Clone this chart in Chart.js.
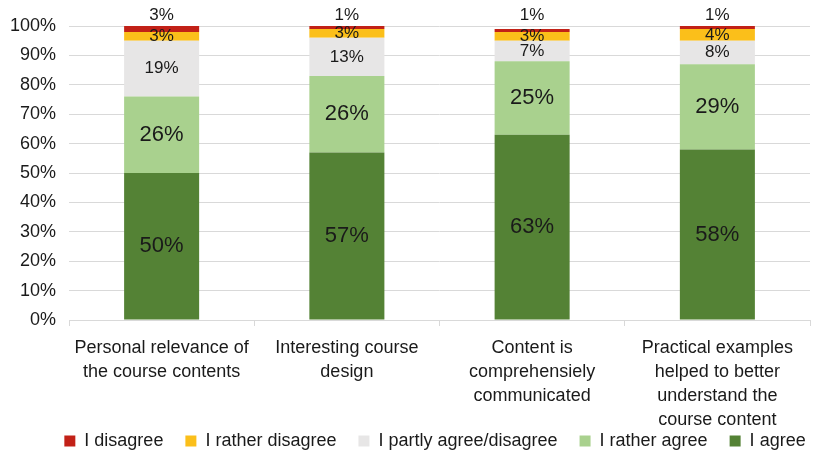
<!DOCTYPE html>
<html lang="en">
<head>
    <meta charset="UTF-8">
    <title>Course evaluation</title>
    <script src="https://cdn.jsdelivr.net/npm/chart.js"></script>
    <style>
        body {
            margin: 0;
            padding: 0;
            background: #fff;
        }
        .wrap {
            width: 823px;
            height: 455px;
        }
    </style>
</head>
<body>
    <div class="wrap">
        <canvas id="surveyChart" width="823" height="455"></canvas>
    </div>

    <script>
        // survey items (multi-line axis labels)
        const categories = [
            ["Personal relevance of", "the course contents"],
            ["Interesting course", "design"],
            ["Content is", "comprehensiely", "communicated"],
            ["Practical examples", "helped to better", "understand the", "course content"]
        ];

        // answer shares in percent, one array per answer
        const agree = [50, 57, 63, 58];
        const ratherAgree = [26, 26, 25, 29];
        const partlyAgree = [19, 13, 7, 8];
        const ratherDisagree = [3, 3, 3, 4];
        const disagree = [3, 1, 1, 1];

        const yTicks = [0, 10, 20, 30, 40, 50, 60, 70, 80, 90, 100];

        const FONT = "'Liberation Sans', Arial, sans-serif";

        // percent labels on the segments; the top answer sits above the bar
        const segmentLabels = {
            id: 'segmentLabels',
            afterDatasetsDraw(chart) {
                const ctx = chart.ctx;
                const yScale = chart.scales.y;
                ctx.save();
                ctx.fillStyle = '#1a1a1a';
                ctx.textAlign = 'center';
                ctx.textBaseline = 'middle';
                chart.data.datasets.forEach((ds, i) => {
                    const meta = chart.getDatasetMeta(i);
                    meta.data.forEach((bar, j) => {
                        const v = ds.data[j];
                        ctx.font = (v >= 20 ? '22px ' : '17px ') + FONT;
                        let y = (bar.y + bar.base) / 2;
                        if (ds.label === 'I disagree') {
                            y = yScale.getPixelForValue(100) - 11;
                        }
                        ctx.fillText(v + '%', bar.x, y);
                    });
                });
                ctx.restore();
            }
        };

        // wide gaps between legend items, but keep the legend box short so
        // the last line of the axis labels is not clipped
        const legendSpacing = {
            id: 'legendSpacing',
            afterInit(chart) {
                const legend = chart.legend;
                const fit = legend.fit;
                legend.fit = function () {
                    fit.call(this);
                    this.height = 25;
                };
            },
            afterLayout(chart) {
                const legend = chart.legend;
                legend.top -= legend.options.labels.padding - 2;
                legend.left += 30;
                legend.right += 30;
            }
        };

        const ctx = document.getElementById('surveyChart').getContext('2d');
        new Chart(ctx, {
            type: 'bar',
            data: {
                labels: categories,
                datasets: [
                    { label: 'I agree', data: agree, backgroundColor: '#548235' },
                    { label: 'I rather agree', data: ratherAgree, backgroundColor: '#A9D18E' },
                    { label: 'I partly agree/disagree', data: partlyAgree, backgroundColor: '#E7E6E6' },
                    { label: 'I rather disagree', data: ratherDisagree, backgroundColor: '#FBBF1A' },
                    { label: 'I disagree', data: disagree, backgroundColor: '#C22117' }
                ]
            },
            options: {
                responsive: false,
                animation: false,
                layout: {
                    padding: { top: 26, right: 13, left: 0, bottom: 0 }
                },
                datasets: {
                    bar: {
                        categoryPercentage: 1,
                        barPercentage: 0.405,
                        borderWidth: 0
                    }
                },
                plugins: {
                    tooltip: { enabled: false },
                    legend: {
                        position: 'bottom',
                        reverse: true,
                        labels: {
                            boxWidth: 11,
                            boxHeight: 11,
                            padding: 22,
                            color: '#1a1a1a',
                            font: { family: FONT, size: 18 }
                        }
                    }
                },
                scales: {
                    x: {
                        stacked: true,
                        afterFit(scale) { scale.height = 110; },
                        border: { color: '#D9D9D9' },
                        grid: {
                            offset: true,
                            drawOnChartArea: false,
                            color: '#D9D9D9',
                            tickLength: 6
                        },
                        ticks: {
                            autoSkip: false,
                            maxRotation: 0,
                            padding: 10,
                            color: '#1a1a1a',
                            font: { family: FONT, size: 18, lineHeight: 1.33 }
                        }
                    },
                    y: {
                        stacked: true,
                        min: 0,
                        max: 100,
                        afterFit(scale) { scale.width = 69; },
                        afterBuildTicks(scale) {
                            scale.ticks = yTicks.map(v => ({ value: v }));
                        },
                        border: { display: false },
                        grid: {
                            color: '#D9D9D9',
                            drawTicks: false
                        },
                        ticks: {
                            padding: 13,
                            color: '#1a1a1a',
                            font: { family: FONT, size: 18 },
                            callback: v => v + '%'
                        }
                    }
                }
            },
            plugins: [segmentLabels, legendSpacing]
        });
    </script>
</body>
</html>
